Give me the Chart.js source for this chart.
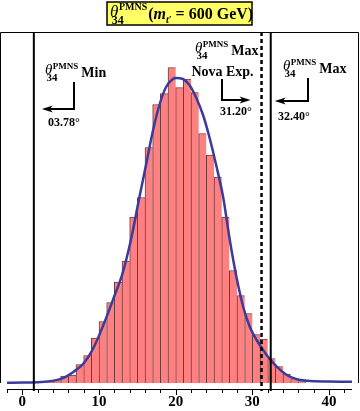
<!DOCTYPE html>
<html><head><meta charset="utf-8">
<script src="https://cdn.jsdelivr.net/npm/chart.js@4/dist/chart.umd.min.js"></script>
<style>html,body{margin:0;padding:0;background:#fff;}canvas{display:block;}</style>
</head><body>
<canvas id="c" width="360" height="411"></canvas>
<script>
// histogram bins (left edge, width 1) and heights (arbitrary counts)
const binStarts = [3,4,5,6,7,8,9,10,11,12,13,14,15,16,17,18,19,20,21,22,23,24,25,26,27,28,29,30,31,32,33,34,35,36];
const binCounts = [1,2.5,7,8,18.5,27.5,45,61.5,80.5,101,122,166,185.5,235.5,278.5,289.5,315.5,295.5,304,290.5,249.5,228,206,166,112.5,87.5,69.5,48.5,44,24.5,16.5,9,4.5,1.5];
// fitted curve
const fitX = [-2,0,2.4,5.2,6.7,8.0,9.35,10.66,11.97,13.07,14.16,15.25,16.13,17.0,17.88,18.75,19.63,20.07,20.94,21.8,22.69,23.57,24.43,25.31,26.19,27.06,27.93,28.81,29.68,30.56,31.87,33.18,34.49,35.8,37.1,40,43];
const fitY = [0.3,0.5,1,4.7,11.3,19.7,36.3,59.7,86.3,109.7,143,185,218,251,278,296,304,305,304,298,285,268,245,217,186,143,106,76,56,43,28,16.3,8,3.7,2.3,1.5,1.3];
const xTickLabels = [0,10,20,30,40];
const boundValues = [1.5, 31.2, 32.4];
const boundLabels = ['03.78°','31.20°','32.40°'];

const SERIF = '"Liberation Serif", "DejaVu Serif", serif';

function thetaSym(ctx, x, B, s) {
  ctx.textBaseline = 'alphabetic';
  ctx.textAlign = 'left';
  ctx.font = `italic ${Math.round(15*s)}px ${SERIF}`;
  ctx.fillText('θ', x, B - 3*s);
  const tw = ctx.measureText('θ').width;
  ctx.font = `bold ${Math.round(11*s)}px ${SERIF}`;
  ctx.fillText('34', x + 1.5*s, B + 3.5*s);
  const sw = ctx.measureText('34').width;
  ctx.font = `bold ${Math.round(9*s)}px ${SERIF}`;
  ctx.fillText('PMNS', x + tw + 0.5*s, B - 8.5*s);
  const pw = ctx.measureText('PMNS').width;
  return Math.max(x + tw + 0.5*s + pw, x + 1.5*s + sw);
}

function arrowHead(ctx, tipX, y, dir) {
  ctx.beginPath();
  ctx.moveTo(tipX, y);
  ctx.lineTo(tipX - dir*11, y - 3.5);
  ctx.lineTo(tipX - dir*8, y);
  ctx.lineTo(tipX - dir*11, y + 3.5);
  ctx.closePath();
  ctx.fill();
}

const decor = {
  id: 'decor',
  afterDraw(chart) {
    const ctx = chart.ctx;
    const a = chart.chartArea;
    const xs = chart.scales.x;
    const ys = chart.scales.y;
    ctx.save();
    ctx.fillStyle = '#000';
    ctx.strokeStyle = '#000';
    // frame
    ctx.lineWidth = 1;
    ctx.beginPath();
    ctx.moveTo(0.5, ys.getPixelForValue(0));
    ctx.lineTo(0.5, a.top + 0.5);
    ctx.lineTo(358.5, a.top + 0.5);
    ctx.lineTo(358.5, ys.getPixelForValue(0));
    ctx.stroke();
    // axis line and ticks
    ctx.beginPath();
    ctx.moveTo(a.left, a.bottom + 0.5);
    ctx.lineTo(a.right, a.bottom + 0.5);
    for (let v = -2; v <= 43; v += 2) {
      const px = Math.round(xs.getPixelForValue(v)) + 0.5;
      ctx.moveTo(px, a.bottom);
      ctx.lineTo(px, a.bottom + (v % 10 === 0 ? 6 : 4));
    }
    ctx.stroke();
    // bound lines
    const bx = boundValues.map(v => xs.getPixelForValue(v));
    ctx.lineWidth = 2;
    ctx.beginPath();
    ctx.moveTo(bx[0], a.top); ctx.lineTo(bx[0], a.bottom + 2);
    ctx.moveTo(bx[2], a.top); ctx.lineTo(bx[2], a.bottom + 2);
    ctx.stroke();
    ctx.save();
    ctx.lineWidth = 2.5;
    ctx.setLineDash([4, 3]);
    ctx.beginPath();
    ctx.moveTo(bx[1], a.top); ctx.lineTo(bx[1], a.bottom + 2);
    ctx.stroke();
    ctx.restore();

    // left annotation: Min
    let e = thetaSym(ctx, 45, 77, 1);
    ctx.font = `bold 14px ${SERIF}`;
    ctx.fillText('Min', e + 3, 77);
    ctx.lineWidth = 2;
    ctx.beginPath();
    ctx.moveTo(74, 82); ctx.lineTo(74, 109); ctx.lineTo(bx[0] + 14, 109);
    ctx.stroke();
    arrowHead(ctx, bx[0] + 8, 109, -1);
    ctx.font = `bold 12px ${SERIF}`;
    ctx.textAlign = 'center';
    ctx.fillText(boundLabels[0], 64, 126);

    // middle annotation: Nova
    e = thetaSym(ctx, 195, 55, 1);
    ctx.font = `bold 14px ${SERIF}`;
    ctx.textAlign = 'left';
    ctx.fillText('Max', e + 3, 55);
    ctx.textAlign = 'center';
    ctx.fillText('Nova Exp.', 222.5, 76);
    ctx.beginPath();
    ctx.moveTo(222, 79); ctx.lineTo(222, 100); ctx.lineTo(bx[1] - 16, 100);
    ctx.stroke();
    arrowHead(ctx, bx[1] - 11, 100, 1);
    ctx.font = `bold 12px ${SERIF}`;
    ctx.fillText(boundLabels[1], 236, 115);

    // right annotation
    e = thetaSym(ctx, 283, 73, 1);
    ctx.font = `bold 14px ${SERIF}`;
    ctx.textAlign = 'left';
    ctx.fillText('Max', e + 3, 73);
    ctx.beginPath();
    ctx.moveTo(308, 78); ctx.lineTo(308, 101); ctx.lineTo(bx[2] + 10, 101);
    ctx.stroke();
    arrowHead(ctx, bx[2] + 4, 101, -1);
    ctx.font = `bold 12px ${SERIF}`;
    ctx.textAlign = 'center';
    ctx.fillText(boundLabels[2], 294, 120);

    // title box
    ctx.fillStyle = '#ffff66';
    ctx.fillRect(107, 2, 145, 23);
    ctx.lineWidth = 1.5;
    ctx.strokeRect(107, 2, 145, 23);
    ctx.fillStyle = '#000';
    e = thetaSym(ctx, 110, 20, 1.12);
    ctx.textAlign = 'left';
    ctx.font = `bold 16px ${SERIF}`;
    ctx.fillText('(', e + 1, 19);
    let x = e + 1 + ctx.measureText('(').width;
    ctx.font = `bold italic 16px ${SERIF}`;
    ctx.fillText('m', x, 19);
    x += ctx.measureText('m').width;
    ctx.font = `bold italic 10px ${SERIF}`;
    ctx.fillText('t′', x, 23);
    x += ctx.measureText('t′').width;
    ctx.font = `bold 16px ${SERIF}`;
    ctx.fillText(' = 600 GeV)', x, 19);
    ctx.restore();
  }
};

new Chart(document.getElementById('c'), {
  type: 'bar',
  data: {
    datasets: [
      {
        type: 'line',
        data: fitX.map((v, i) => ({x: v, y: fitY[i]})),
        borderColor: '#3b3b9e',
        borderWidth: 2.5,
        pointRadius: 0,
        cubicInterpolationMode: 'monotone',
        fill: false,
        order: 0
      },
      {
        type: 'bar',
        data: binStarts.map((s, i) => ({x: s + 0.5, y: binCounts[i]})),
        backgroundColor: '#ff8080',
        borderColor: '#6e3c3c',
        borderWidth: ctx => ({top: 1, left: 1, bottom: 0, right: ctx.dataIndex === binStarts.length - 1 ? 1 : 0}),
        borderSkipped: false,
        barPercentage: 1,
        categoryPercentage: 1,
        order: 1
      }
    ]
  },
  options: {
    responsive: false,
    animation: false,
    events: [],
    layout: {padding: {left: 7, right: 8, top: 32, bottom: 0}},
    plugins: {legend: {display: false}, tooltip: {enabled: false}, title: {display: false}},
    scales: {
      x: {
        type: 'linear',
        min: -2, max: 43,
        offset: false,
        grid: {display: false, drawTicks: false, tickLength: 0},
        border: {display: false},
        afterBuildTicks: s => { s.ticks = xTickLabels.map(v => ({value: v})); },
        afterFit: s => { s.height = 22; },
        ticks: {
          color: '#000',
          font: {family: SERIF, size: 15, weight: 'bold'},
          padding: 4,
          maxRotation: 0,
          autoSkip: false
        }
      },
      y: {
        display: false,
        min: -6, max: 351
      }
    }
  },
  plugins: [decor]
});
</script>
</body></html>
